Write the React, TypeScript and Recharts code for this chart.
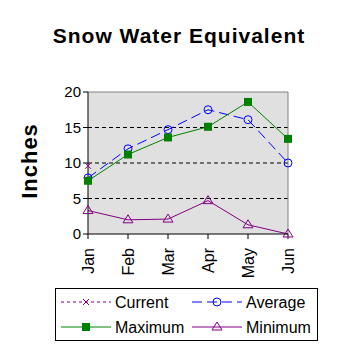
import React from 'react';
import { LineChart, Line, XAxis, YAxis, CartesianGrid, Legend, ReferenceLine } from 'recharts';

const months = ['Jan', 'Feb', 'Mar', 'Apr', 'May', 'Jun'];
const current = [9.6, null, null, null, null, null];
const average = [7.9, 12.0, 14.7, 17.5, 16.1, 10.0];
const maximum = [7.5, 11.2, 13.6, 15.1, 18.6, 13.4];
const minimum = [3.3, 2.0, 2.1, 4.7, 1.3, 0.0];
const yTicks = [0, 5, 10, 15, 20];

const data = months.map((m, i) => ({
  month: m,
  current: current[i],
  average: average[i],
  maximum: maximum[i],
  minimum: minimum[i],
}));

const FONT = '"Liberation Sans", Arial, sans-serif';
const PURPLE = '#800080';
const BLUE = '#0000ff';
const GREEN = '#008000';

const CrossDot = (p: any) => {
  if (p.value == null || p.cy == null) return <g key={p.key} />;
  const { cx, cy } = p;
  return (
    <g key={p.key} stroke={PURPLE} strokeWidth={1}>
      <line x1={cx - 3} y1={cy - 3} x2={cx + 3} y2={cy + 3} />
      <line x1={cx - 3} y1={cy + 3} x2={cx + 3} y2={cy - 3} />
    </g>
  );
};

const CircleDot = (p: any) => {
  if (p.value == null || p.cy == null) return <g key={p.key} />;
  return <circle key={p.key} cx={p.cx} cy={p.cy} r={4} fill="none" stroke={BLUE} strokeWidth={1} />;
};

const SquareDot = (p: any) => {
  if (p.value == null || p.cy == null) return <g key={p.key} />;
  return <rect key={p.key} x={p.cx - 4} y={p.cy - 4} width={8} height={8} fill={GREEN} />;
};

const TriangleDot = (p: any) => {
  if (p.value == null || p.cy == null) return <g key={p.key} />;
  const { cx, cy } = p;
  return (
    <polygon
      key={p.key}
      points={`${cx},${cy - 5} ${cx - 5},${cy + 3} ${cx + 5},${cy + 3}`}
      fill="none"
      stroke={PURPLE}
      strokeWidth={1}
    />
  );
};

const MonthTick = (p: any) => {
  const { x, y, payload } = p;
  return (
    <g transform={`translate(${x},${y + 7}) rotate(-90)`}>
      <text x={0} y={0} dy={5.5} textAnchor="end" fontSize={16} fontFamily={FONT} fill="#000">
        {payload.value}
      </text>
    </g>
  );
};

const legendItems = [
  { name: 'Current', color: PURPLE, dash: '3 3', Dot: CrossDot },
  { name: 'Average', color: BLUE, dash: '10 5', Dot: CircleDot },
  { name: 'Maximum', color: GREEN, dash: undefined, Dot: SquareDot },
  { name: 'Minimum', color: PURPLE, dash: undefined, Dot: TriangleDot },
];

const LegendBox = () => (
  <svg width={263} height={53}>
    <rect x={0.5} y={0.5} width={262} height={52} fill="#fff" stroke="#000" />
    {legendItems.map((it, i) => {
      const x0 = i % 2 === 0 ? 6 : 137;
      const y0 = i < 2 ? 14 : 39;
      return (
        <g key={it.name}>
          <line x1={x0} y1={y0} x2={x0 + 50} y2={y0} stroke={it.color} strokeDasharray={it.dash} />
          {it.Dot({ cx: x0 + 25, cy: y0, value: 1, key: it.name })}
          <text x={x0 + 54} y={y0 + 6} fontSize={16} fontFamily={FONT} fill="#000">
            {it.name}
          </text>
        </g>
      );
    })}
  </svg>
);

export default function App() {
  return (
    <div style={{ position: 'absolute', left: 0, top: 0, width: 358, height: 358, background: '#fff' }}>
      <svg width={358} height={60} style={{ position: 'absolute', left: 0, top: 0 }}>
        <text x={179} y={43} textAnchor="middle" fontSize={21} fontWeight="bold" letterSpacing={1} fontFamily={FONT}>
          Snow Water Equivalent
        </text>
      </svg>
      <LineChart
        width={358}
        height={358}
        data={data}
        margin={{ top: 92, right: 70, left: 40, bottom: 74 }}
        style={{ position: 'absolute', left: 0, top: 0 }}
      >
        <CartesianGrid
          fill="#e0e0e0"
          vertical={false}
          horizontalValues={[5, 10, 15]}
          stroke="#000"
          strokeDasharray="4 3"
        />
        <ReferenceLine y={20} stroke="#808080" />
        <ReferenceLine x="Jun" stroke="#808080" />
        <XAxis
          dataKey="month"
          scale="point"
          padding={{ left: 0, right: 0 }}
          height={50}
          axisLine={{ stroke: '#000' }}
          tickLine={{ stroke: '#000' }}
          tickSize={5}
          tick={<MonthTick />}
          interval={0}
        />
        <YAxis
          domain={[0, 20]}
          ticks={yTicks}
          width={48}
          axisLine={{ stroke: '#000' }}
          tickLine={{ stroke: '#000' }}
          tickSize={5}
          tick={{ fontSize: 15, fontFamily: FONT, fill: '#000' }}
          label={{
            content: () => (
              <text
                x={0}
                y={0}
                transform="translate(37,161) rotate(-90)"
                textAnchor="middle"
                fontSize={22}
                fontWeight="bold"
                letterSpacing={1}
                fontFamily={FONT}
                fill="#000"
              >
                Inches
              </text>
            ),
          }}
        />
        <Legend
          layout="horizontal"
          verticalAlign="middle"
          align="center"
          wrapperStyle={{ position: 'absolute', left: 55, top: 288, width: 263, height: 53 }}
          content={() => <LegendBox />}
        />
        <Line dataKey="current" name="Current" stroke={PURPLE} strokeDasharray="3 3" dot={CrossDot} isAnimationActive={false} connectNulls={false} />
        <Line dataKey="average" name="Average" stroke={BLUE} strokeDasharray="10 5" dot={CircleDot} isAnimationActive={false} />
        <Line dataKey="maximum" name="Maximum" stroke={GREEN} dot={SquareDot} isAnimationActive={false} />
        <Line dataKey="minimum" name="Minimum" stroke={PURPLE} dot={TriangleDot} isAnimationActive={false} />
      </LineChart>
    </div>
  );
}
